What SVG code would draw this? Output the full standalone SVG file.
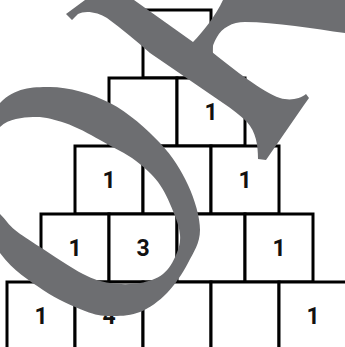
<svg xmlns="http://www.w3.org/2000/svg" width="345" height="347" viewBox="0 0 345 347">
<style>
.box{fill:#fff;stroke:#000;stroke-width:3}
.num{font-family:Roboto,"Liberation Sans",sans-serif;font-weight:700;font-size:23px;fill:#111;text-anchor:middle}
.ov{fill:#6d6e71;fill-rule:evenodd}
</style>
<rect width="345" height="347" fill="#fff"/>
<g id="row0">
<g id="n0-0"><rect class="box" x="143" y="10" width="68" height="68"/></g>
</g>
<g id="row1">
<g id="n1-0"><rect class="box" x="109" y="78" width="68" height="68"/></g>
<g id="n1-1"><rect class="box" x="177" y="78" width="68" height="68"/><text class="num" x="211" y="120">1</text></g>
</g>
<g id="row2">
<g id="n2-0"><rect class="box" x="75" y="146" width="68" height="68"/><text class="num" x="109" y="188">1</text></g>
<g id="n2-1"><rect class="box" x="143" y="146" width="68" height="68"/></g>
<g id="n2-2"><rect class="box" x="211" y="146" width="68" height="68"/><text class="num" x="245" y="188">1</text></g>
</g>
<g id="row3">
<g id="n3-0"><rect class="box" x="41" y="214" width="68" height="68"/><text class="num" x="75" y="256">1</text></g>
<g id="n3-1"><rect class="box" x="109" y="214" width="68" height="68"/><text class="num" x="143" y="256">3</text></g>
<g id="n3-2"><rect class="box" x="177" y="214" width="68" height="68"/></g>
<g id="n3-3"><rect class="box" x="245" y="214" width="68" height="68"/><text class="num" x="279" y="256">1</text></g>
</g>
<g id="row4">
<g id="n4-0"><rect class="box" x="7" y="282" width="68" height="68"/><text class="num" x="41" y="324">1</text></g>
<g id="n4-1"><rect class="box" x="75" y="282" width="68" height="68"/><text class="num" x="109" y="324">4</text></g>
<g id="n4-2"><rect class="box" x="143" y="282" width="68" height="68"/></g>
<g id="n4-3"><rect class="box" x="211" y="282" width="68" height="68"/></g>
<g id="n4-4"><rect class="box" x="279" y="282" width="68" height="68"/><text class="num" x="313" y="324">1</text></g>
</g>
<g id="overlay">
<path class="ov" d="M -40,180 C -40,155 -15,118.5 0,103 C 15,87.5 31.7,87 50,87 C 68.3,87 91.7,93.7 110,103 C 128.3,112.3 147,129.3 160,143 C 173,156.7 181.3,170.5 188,185 C 194.7,199.5 200,217 200,230 C 200,243 193.5,252.5 188,263 C 182.5,273.5 175,284.8 167,293 C 159,301.2 149.5,308.2 140,312 C 130.5,315.8 119.2,316.2 110,316 C 100.8,315.8 96.2,315.3 85,311 C 73.8,306.7 57.2,299.7 43,290 C 28.8,280.3 13.8,271.3 0,253 C -13.8,234.7 -40,205 -40,180 Z
M -22,170 C -22,155.5 -9.2,135.8 0,127 C 9.2,118.2 22.2,117.7 33,117 C 43.8,116.3 53.8,119.2 65,123 C 76.2,126.8 89.2,133.8 100,140 C 110.8,146.2 121,151 132,158 C 143,166 152,174 158,182 C 164,190 169,201 173,211 C 177,220 179.3,227.8 180,235 C 180.7,242.2 178.8,248.5 176,255 C 173.2,261.5 169,269.3 163,274 C 157,278.7 148.8,281.5 140,283 C 131.2,284.5 119.5,284.5 110,283 C 100.5,281.5 94.7,280 83,274 C 71.3,268 51.3,254.3 40,247 C 28.7,239.7 21.7,235.5 15,230 C 8.3,224.5 6.2,220.2 0,214 C -6.2,204 -22,184.5 -22,170 Z"/>
<path class="ov" d="M 66,14 L 85,0 L 134,0 L 193,42 C 203,32 216,15 223,0 L 345,0 L 345,33 C 315,29 275,22 245,22 C 232,22 222,28 217,37 C 214,42 212,47 212,52 C 235,70 262,92 280,98 C 290,101 300,99 306,94 L 309,98 L 304,105 L 266,160 L 258,159 C 258,145 256,132 247,122 C 240,115 232,109 223,103 L 150,53 C 135,40 122,29 107,18 C 98,12 85,10 78,14 L 72,20 Z"/>
</g>
</svg>
